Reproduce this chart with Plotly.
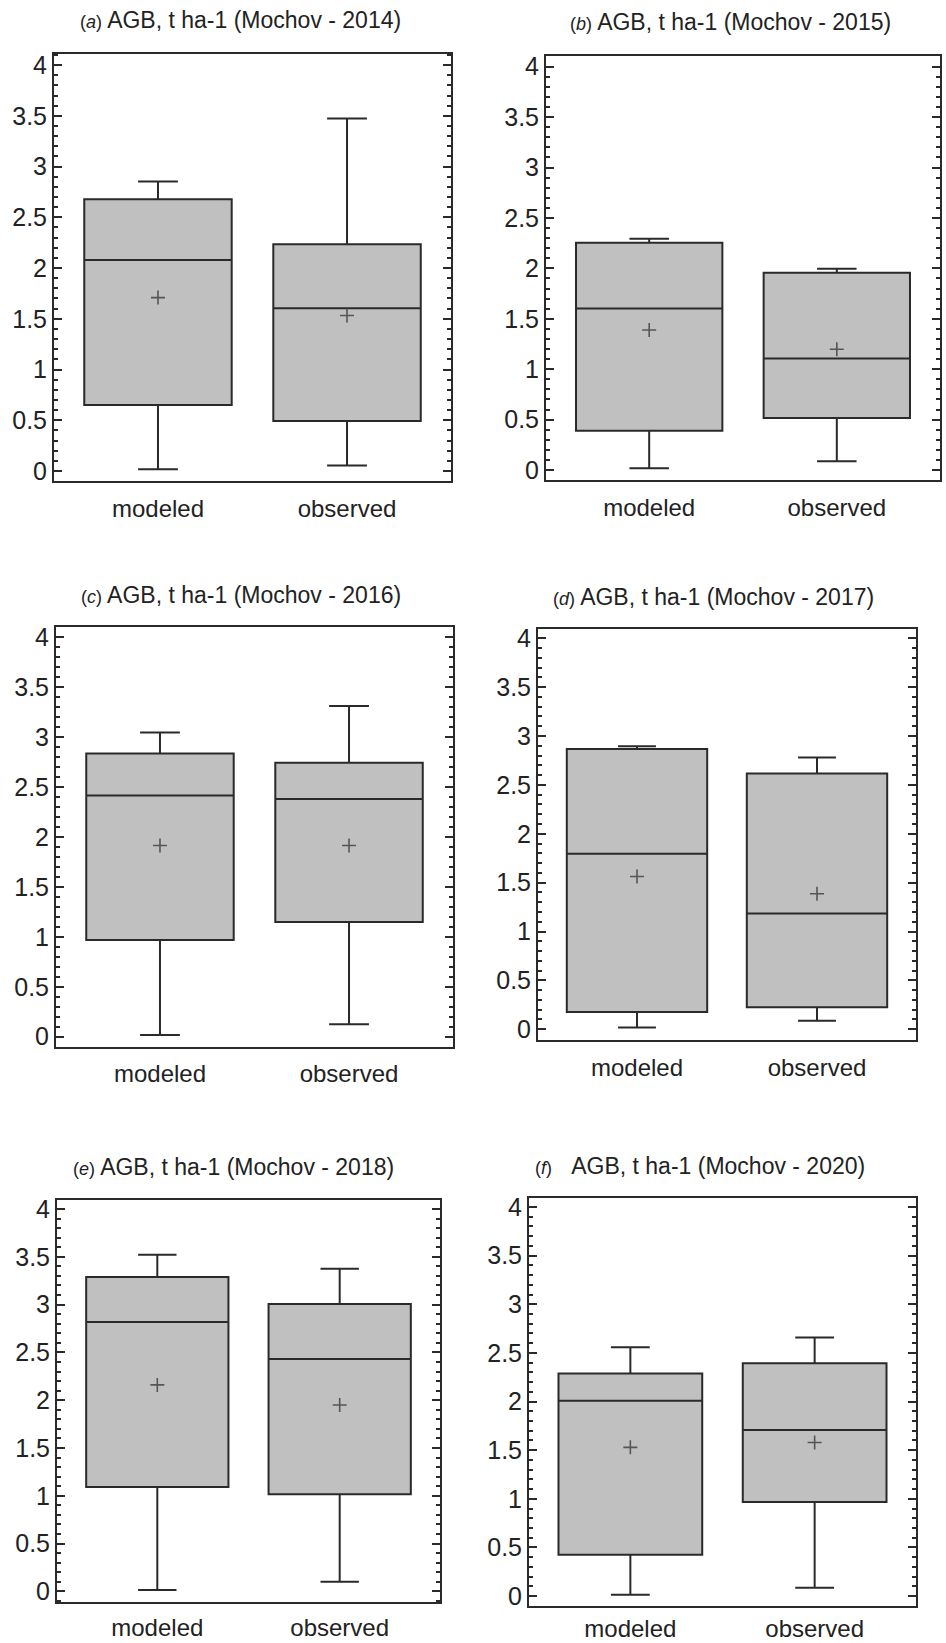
import plotly.graph_objects as go

# ---------------- data ----------------
categories = ["modeled", "observed"]
panel_letters = ["a", "b", "c", "d", "e", "f"]
years = ["2014", "2015", "2016", "2017", "2018", "2020"]

# per panel: [modeled, observed]
lower_whisker = [[0.016, 0.053], [0.017, 0.086], [0.017, 0.124],
                 [0.018, 0.088], [0.015, 0.102], [0.014, 0.086]]
q1_values = [[0.651, 0.493], [0.390, 0.516], [0.970, 1.149],
             [0.176, 0.226], [1.093, 1.016], [0.425, 0.968]]
median_values = [[2.080, 1.604], [1.603, 1.107], [2.416, 2.381],
                 [1.795, 1.185], [2.817, 2.432], [2.007, 1.707]]
q3_values = [[2.679, 2.235], [2.255, 1.957], [2.837, 2.744],
             [2.868, 2.617], [3.289, 3.005], [2.289, 2.393]]
upper_whisker = [[2.853, 3.474], [2.294, 1.997], [3.047, 3.313],
                 [2.896, 2.780], [3.521, 3.376], [2.557, 2.657]]
mean_values = [[1.709, 1.532], [1.388, 1.197], [1.915, 1.915],
               [1.563, 1.386], [2.160, 1.949], [1.529, 1.579]]

y_tickvals = [0, 0.5, 1, 1.5, 2, 2.5, 3, 3.5, 4]

# ---------------- layout geometry (pixels) ----------------
W, H = 946, 1643
frames = [  # (left, right, top, bottom)
    (54, 451, 54, 481),
    (546, 940, 56, 480),
    (56, 453, 627, 1047),
    (538, 916, 629, 1040),
    (57, 440, 1200, 1602),
    (529, 916, 1198, 1606),
]
y_ranges = [(-0.099, 4.11), (-0.099, 4.106), (-0.103, 4.104),
            (-0.11, 4.095), (-0.111, 4.094), (-0.102, 4.092)]
title_pos = [(240, 20), (730, 22), (241, 595), (713, 597), (233, 1167), (700, 1166)]
label_standoff = [5, 5, 4, 5, 3, 0]

FONT = "Liberation Sans, Arial, sans-serif"
DARK = "#2a2a2a"

fig = go.Figure()
for i in range(6):
    ax = "" if i == 0 else str(i + 1)
    fig.add_trace(go.Box(
        x=categories,
        q1=q1_values[i], median=median_values[i], q3=q3_values[i],
        lowerfence=lower_whisker[i], upperfence=upper_whisker[i],
        width=0.78, whiskerwidth=0.27, boxpoints=False,
        fillcolor="#c0c0c0", line=dict(color=DARK, width=2),
        xaxis="x" + ax, yaxis="y" + ax, showlegend=False, hoverinfo="skip",
    ))
    fig.add_trace(go.Scatter(
        x=categories, y=mean_values[i], mode="markers",
        marker=dict(symbol="cross-thin", size=10, line=dict(color="#555555", width=1.6)),
        xaxis="x" + ax, yaxis="y" + ax, showlegend=False, hoverinfo="skip",
    ))
    l, r, t, b = frames[i]
    fig.layout["xaxis" + ax] = dict(
        domain=[l / W, r / W], anchor="y" + ax, type="category",
        range=[-0.55, 1.55], showline=True, linewidth=2, linecolor=DARK,
        mirror=True, ticks="", showgrid=False, zeroline=False, automargin=False,
        tickfont=dict(family=FONT, size=24, color="#222222"),
        ticklabelstandoff=label_standoff[i],
    )
    fig.layout["yaxis" + ax] = dict(
        domain=[1 - b / H, 1 - t / H], anchor="x" + ax,
        range=list(y_ranges[i]), tickvals=y_tickvals, automargin=False,
        ticks="inside", ticklen=8, tickwidth=2, tickcolor=DARK,
        showline=True, linewidth=2, linecolor=DARK, mirror="ticks",
        minor=dict(dtick=0.1, tick0=0, ticks="inside", ticklen=4, tickwidth=1.5, tickcolor=DARK),
        showgrid=False, zeroline=False,
        tickfont=dict(family=FONT, size=25, color="#222222"),
    )
    sp = "&nbsp;&nbsp;" if panel_letters[i] == "f" else ""
    fig.add_annotation(
        x=title_pos[i][0] / W, y=1 - title_pos[i][1] / H, xref="paper", yref="paper",
        xanchor="center", yanchor="middle", showarrow=False,
        text=f"<span style='font-size:18px'>(<i>{panel_letters[i]}</i>)</span> {sp}AGB, t ha-1 (Mochov - {years[i]})",
        font=dict(family=FONT, size=23, color="#222222"),
    )

fig.update_layout(
    width=W, height=H, margin=dict(l=0, r=0, t=0, b=0),
    paper_bgcolor="white", plot_bgcolor="white",
)
fig.write_html("out.html")
